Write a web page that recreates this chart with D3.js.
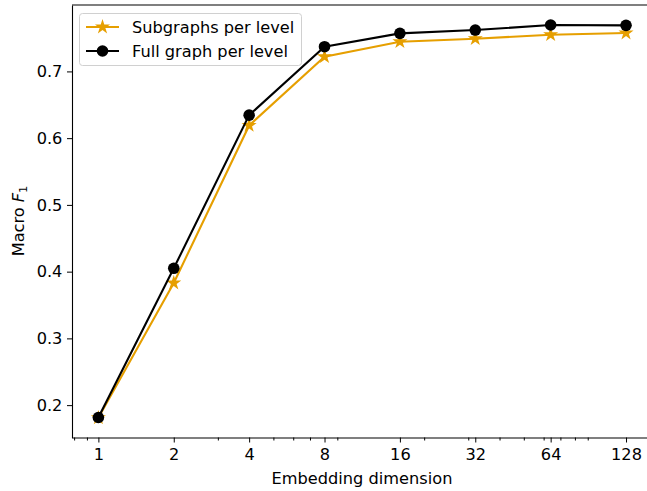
<!DOCTYPE html>
<html><head><meta charset="utf-8">
<script src="https://cdn.jsdelivr.net/npm/d3@7"></script>
<style>body{margin:0;background:#fff}svg{display:block;font-family:"DejaVu Sans",sans-serif}</style>
</head><body><svg id="c" width="647" height="491"></svg>
<script>
const dims = [1, 2, 4, 8, 16, 32, 64, 128];
const subgraphs = [0.181, 0.383, 0.619, 0.722, 0.7445, 0.749, 0.755, 0.7575];
const fullGraph = [0.1815, 0.405, 0.6345, 0.737, 0.757, 0.762, 0.7695, 0.769];
const yTicks = [0.2, 0.3, 0.4, 0.5, 0.6, 0.7];
const minorTicks = [0.8, 0.9, 3, 5, 6, 7, 9, 20, 30, 40, 50, 60, 70, 80, 90];
const seriesNames = ["Subgraphs per level", "Full graph per level"];

const FS = 16.2;
const svg = d3.select("#c");
const L = 72, T = 5, B = 437.5;
const lo = Math.pow(2, -0.35), hi = Math.pow(2, 7.35);
const x = d3.scaleLog().base(2).domain([lo, hi]).range([L, 98 + 7.35 * 75.43]);
const y = d3.scaleLinear().domain([0.1515, 0.7995]).range([B, T]);

svg.append("defs").append("clipPath").attr("id", "clip")
  .append("rect").attr("x", L).attr("y", T - 8).attr("width", 700).attr("height", B - T + 16);

svg.append("line").attr("x1", L).attr("x2", 700).attr("y1", T).attr("y2", T).attr("stroke", "#000").attr("stroke-width", 1.1);

const xa = svg.append("g").attr("transform", `translate(0,${B})`)
  .call(d3.axisBottom(x).tickValues(dims).tickFormat(d3.format("d")).tickSize(5).tickSizeOuter(0));
const xm = svg.append("g").attr("transform", `translate(0,${B})`)
  .call(d3.axisBottom(x).tickValues(minorTicks).tickFormat("").tickSize(3).tickSizeOuter(0));
xm.select(".domain").remove();
const ya = svg.append("g").attr("transform", `translate(${L},0)`)
  .call(d3.axisLeft(y).tickValues(yTicks).tickFormat(d3.format(".1f")).tickSize(5).tickSizeOuter(0));
[xa, ya, xm].forEach(g => {
  g.attr("font-family", null).attr("font-size", null);
  g.selectAll("text").attr("font-family", "DejaVu Sans").attr("font-size", FS).attr("fill", "#000");
  g.selectAll("line").attr("stroke", "#000").attr("stroke-width", 1);
  g.selectAll(".domain").attr("stroke", "#000").attr("stroke-width", 1.1);
});
xa.select(".domain").attr("d", `M${L},0.5H700`);
xa.selectAll("text").attr("dy", "0.9em");
ya.selectAll("text").attr("dx", "-0.1em");

svg.append("text").attr("x", 362).attr("y", 484).attr("text-anchor", "middle")
  .attr("font-size", FS).attr("fill", "#000").text("Embedding dimension");
const yl = svg.append("text").attr("transform", "translate(24,221) rotate(-90)")
  .attr("text-anchor", "middle").attr("font-size", FS).attr("fill", "#000");
yl.append("tspan").text("Macro ");
yl.append("tspan").attr("font-style", "italic").text("F");
yl.append("tspan").attr("font-size", FS * 0.7).attr("dy", 3).text("1");

const star = d3.symbol().type(d3.symbolStar).size(70);
const orange = "#E69F00";
const plot = svg.append("g").attr("clip-path", "url(#clip)");
const line = d3.line().x((d, i) => x(dims[i])).y(d => y(d));

plot.append("path").datum(subgraphs).attr("d", line).attr("fill", "none").attr("stroke", orange).attr("stroke-width", 2.1);
plot.selectAll(".s").data(subgraphs).enter().append("path")
  .attr("d", star).attr("transform", (d, i) => `translate(${x(dims[i])},${y(d)})`).attr("fill", orange);
plot.append("path").datum(fullGraph).attr("d", line).attr("fill", "none").attr("stroke", "#000").attr("stroke-width", 2.1);
plot.selectAll(".f").data(fullGraph).enter().append("circle")
  .attr("cx", (d, i) => x(dims[i])).attr("cy", d => y(d)).attr("r", 5.8).attr("fill", "#000");

const lg = svg.append("g");
lg.append("rect").attr("x", 79.5).attr("y", 13.5).attr("width", 222).attr("height", 52).attr("rx", 3)
  .attr("fill", "#fff").attr("fill-opacity", 0.8).attr("stroke", "#d0d0d0").attr("stroke-width", 1);
lg.append("line").attr("x1", 86).attr("x2", 119).attr("y1", 27).attr("y2", 27).attr("stroke", orange).attr("stroke-width", 2.1);
lg.append("path").attr("d", star).attr("transform", "translate(102.5,27)").attr("fill", orange);
lg.append("line").attr("x1", 86).attr("x2", 119).attr("y1", 51).attr("y2", 51).attr("stroke", "#000").attr("stroke-width", 2.1);
lg.append("circle").attr("cx", 102.5).attr("cy", 51).attr("r", 5.8).attr("fill", "#000");
lg.append("text").attr("x", 132).attr("y", 32.5).attr("font-size", FS).text(seriesNames[0]);
lg.append("text").attr("x", 132).attr("y", 56.5).attr("font-size", FS).text(seriesNames[1]);
</script></body></html>
